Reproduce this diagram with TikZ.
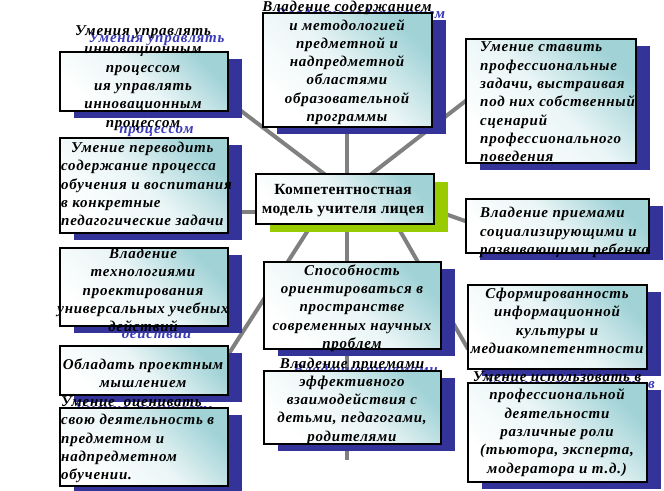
\documentclass[tikz,border=0pt]{standalone}
\usepackage{fontspec}
\setmainfont{Liberation Serif}
\newfontfamily\boxfam[LetterSpace=5]{Liberation Serif}
\newfontfamily\centrefam[LetterSpace=2.5]{Liberation Serif}
\usetikzlibrary{calc}
\definecolor{shadowblue}{RGB}{51,51,153}
\definecolor{textblue}{RGB}{58,58,185}
\definecolor{greenshadow}{RGB}{153,204,0}
\definecolor{linegray}{RGB}{128,128,128}
\definecolor{tealc}{RGB}{160,210,214}
\tikzset{
  boxfont/.style={font=\boxfam\fontsize{15}{18.3}\selectfont\bfseries\itshape},
  blacktext/.style={boxfont, text=black, inner sep=0pt},
  bluetext/.style={boxfont, text=textblue, inner sep=0pt},
  shadowbox/.style={fill=shadowblue, inner sep=0pt, outer sep=0pt},
  greenbox/.style={fill=greenshadow, inner sep=0pt, outer sep=0pt},
  frontbox/.style={draw=black, line width=1.3pt, inner sep=0pt, outer sep=0pt,
    top color=tealc, bottom color=white, middle color=tealc!22!white, shading angle=-45},
  conn/.style={draw=linegray, line width=4pt},
  centerfont/.style={font=\centrefam\fontsize{15.5}{18.5}\selectfont\bfseries, inner sep=0pt, align=center},
}
% box with the shadow's own (blue) text peeping out
\newcommand\cbx[7]{%
  \node[bluetext, #6] (#1blue) at ($(#5)+(13.5,6.5)$) {#7};
  \node[shadowbox, minimum width=#3, minimum height=#4] (#1shadow) at ($(#2)+(13.5,6.5)$) {};
  \node[frontbox, minimum width=#3, minimum height=#4] (#1) at (#2) {};
  \node[blacktext, #6] (#1text) at (#5) {#7};
}
% box whose shadow text stays hidden
\newcommand\cbxn[7]{%
  \node[shadowbox, minimum width=#3, minimum height=#4] (#1shadow) at ($(#2)+(13.5,6.5)$) {};
  \node[frontbox, minimum width=#3, minimum height=#4] (#1) at (#2) {};
  \node[blacktext, #6] (#1text) at (#5) {#7};
}
\begin{document}
\begin{tikzpicture}[x=1pt, y=-1pt]
\useasboundingbox (0,0) rectangle (664,490);
\fill[white] (0,0) rectangle (664,490);
% connector end points
\coordinate (hubA) at (348,192);
\coordinate (hubB) at (300,212);
\coordinate (hubC) at (420,205);
\coordinate (hubD) at (330,196);
\coordinate (hubE) at (347,125);
\coordinate (hubF) at (380,196);
\coordinate (endA) at (232,104);
\coordinate (endB) at (235,212);
\coordinate (endC) at (472,96);
\coordinate (endD) at (475,224.5);
\coordinate (endE) at (228,355);
\coordinate (endF) at (347,460);
\coordinate (endG) at (468,349);
\draw[conn] (hubA) -- (endA);
\draw[conn] (hubB) -- (endB);
\draw[conn] (hubA) -- (endC);
\draw[conn] (hubC) -- (endD);
\draw[conn] (hubD) -- (endE);
\draw[conn] (hubE) -- (endF);
\draw[conn] (hubF) -- (endG);
% boxes
\cbx{bA}{144,81.5}{168pt}{59pt}{143,78}{align=center}{Умения управлять\\инновационным\\процессом\\ия управлять\\инновационным\\процессом}
\cbxn{bB}{144,185.5}{168pt}{95pt}{61,184}{align=left, anchor=west}{\hspace*{10pt}Умение переводить\\содержание процесса\\обучения и воспитания\\в конкретные\\педагогические задачи}
\cbx{bC}{144,287}{168pt}{78pt}{143,290}{align=center}{Владение\\технологиями\\проектирования\\универсальных учебных\\действий}
\cbxn{bD}{144,370.5}{168pt}{49pt}{143,373}{align=center}{Обладать проектным\\мышлением}
\cbx{bE}{144,447}{168pt}{78pt}{61,440}{align=left, anchor=west}{Умение\ \ оценивать\\свою деятельность в\\предметном и\\надпредметном\\обучении.}
\cbx{bF}{347.5,70}{169pt}{114pt}{347,63}{align=center}{Владение содержанием\\и методологией\\предметной и\\надпредметной\\областями\\образовательной\\программы}
\cbxn{bG}{551,101}{170pt}{124pt}{480,102}{align=left, anchor=west}{Умение ставить\\профессиональные\\задачи, выстраивая\\под них собственный\\сценарий\\профессионального\\поведения}
\cbxn{bH}{557.5,226}{183pt}{54pt}{480,232.5}{align=left, anchor=west}{Владение приемами\\социализирующими и\\развивающими ребенка}
\cbxn{bI}{352.5,305.5}{177pt}{87pt}{352,308}{align=center}{Способность\\ориентироваться в\\пространстве\\современных научных\\проблем}
\cbx{bJ}{352.5,407.5}{177pt}{73pt}{352,401}{align=center}{Владение приемами\\эффективного\\взаимодействия с\\детьми, педагогами,\\родителями}
\cbxn{bK}{557.5,327}{179pt}{84pt}{557,321}{align=center}{Сформированность\\информационной\\культуры и\\медиакомпетентности}
\cbx{bL}{557.5,432.5}{179pt}{99pt}{557,424}{align=center}{Умение использовать в\\профессиональной\\деятельности\\различные роли\\(тьютора, эксперта,\\модератора и т.д.)}
% centre
\node[greenbox, minimum width=178pt, minimum height=50pt] (centreshadow) at (359,206.5) {};
\node[frontbox, minimum width=178pt, minimum height=50pt] (centre) at (345,199) {};
\node[centerfont] (centretext) at (343,200.5) {Компетентностная\\модель учителя лицея};
\end{tikzpicture}
\end{document}
